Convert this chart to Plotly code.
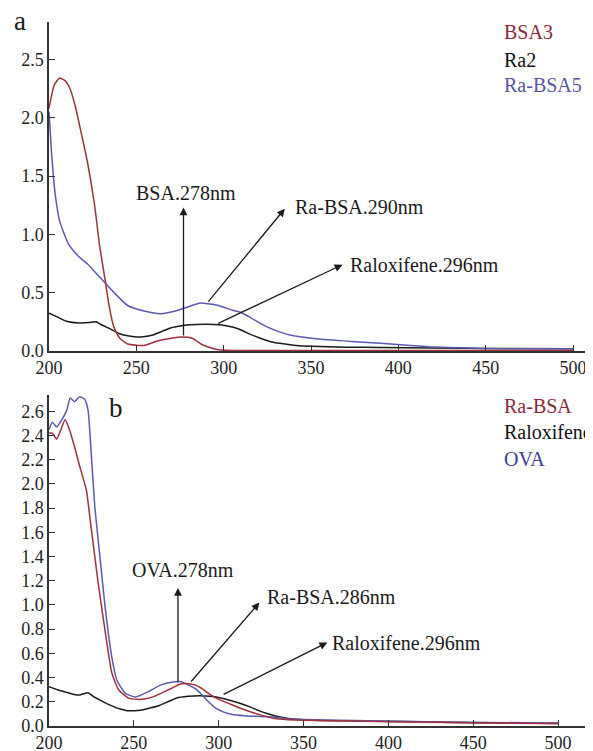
import plotly.graph_objects as go

# ---------------- data (panel a) ----------------
a_bsa_nm = [200, 203, 206, 209, 212, 215, 218, 222, 226, 229, 232, 234.5, 237, 240.5, 245, 250, 255, 262, 270, 276, 282, 287, 292, 297, 305, 350, 400, 450, 500]
a_bsa_val = [2.08, 2.28, 2.34, 2.32, 2.25, 2.10, 1.90, 1.62, 1.26, 0.90, 0.62, 0.38, 0.21, 0.11, 0.06, 0.05, 0.05, 0.085, 0.11, 0.12, 0.11, 0.06, 0.03, 0.01, 0.005, 0.005, 0.005, 0.005, 0.005]

a_ra_nm = [200, 205, 210, 217, 223, 227, 230, 235, 240, 245, 250, 255, 260, 265, 270, 275, 280, 290, 298, 305, 310, 315, 321, 327, 332, 340, 350, 370, 390, 420, 450, 500]
a_ra_val = [0.325, 0.29, 0.255, 0.24, 0.245, 0.25, 0.225, 0.19, 0.15, 0.13, 0.12, 0.125, 0.14, 0.17, 0.20, 0.215, 0.225, 0.23, 0.225, 0.205, 0.18, 0.145, 0.11, 0.08, 0.066, 0.05, 0.04, 0.033, 0.03, 0.025, 0.022, 0.02]

a_rabsa_nm = [200, 201.5, 203.5, 206, 211, 217, 222.5, 228, 236, 245, 255, 264, 274, 280, 286, 291, 297, 305, 310, 316, 323, 330, 338, 350, 362, 375, 390, 405, 418, 440, 460, 500]
a_rabsa_val = [2.05, 1.69, 1.35, 1.12, 0.92, 0.81, 0.74, 0.65, 0.52, 0.39, 0.34, 0.32, 0.35, 0.38, 0.41, 0.405, 0.39, 0.35, 0.33, 0.28, 0.22, 0.175, 0.137, 0.11, 0.094, 0.08, 0.066, 0.05, 0.037, 0.025, 0.02, 0.02]

# ---------------- data (panel b) ----------------
b_rabsa_nm = [200, 202, 204.5, 206.5, 209.5, 211.5, 215, 218, 222, 225, 229, 233, 237, 241, 247, 252, 257, 262, 266, 272, 277, 282, 286, 290, 295, 300, 307, 316, 325, 334, 345, 360, 400, 450, 500]
b_rabsa_val = [2.42, 2.42, 2.37, 2.43, 2.53, 2.47, 2.31, 2.15, 1.95, 1.62, 1.18, 0.79, 0.44, 0.30, 0.23, 0.22, 0.225, 0.245, 0.27, 0.31, 0.345, 0.35, 0.34, 0.31, 0.26, 0.22, 0.18, 0.13, 0.09, 0.06, 0.05, 0.045, 0.036, 0.026, 0.02]

b_ralox_nm = [200, 205, 210, 215, 218, 223, 226, 230, 234, 238, 242, 246, 250, 254, 260, 265, 270, 275, 282, 289, 295, 300, 306, 312, 318, 324, 328, 334, 340, 352, 375, 395, 425, 450, 500]
b_ralox_val = [0.325, 0.30, 0.28, 0.26, 0.256, 0.275, 0.245, 0.215, 0.185, 0.16, 0.14, 0.127, 0.127, 0.13, 0.15, 0.17, 0.20, 0.23, 0.245, 0.25, 0.245, 0.235, 0.215, 0.19, 0.16, 0.125, 0.105, 0.08, 0.064, 0.05, 0.043, 0.04, 0.033, 0.027, 0.02]

b_ova_nm = [200, 202, 204.5, 207.5, 210.5, 212.5, 215, 218, 221, 223, 225, 227, 230, 233, 237, 240, 245, 251, 258, 266, 274, 278, 282, 286, 290, 294, 298, 303, 308, 315, 322, 332, 340, 360, 400, 450, 500]
b_ova_val = [2.45, 2.51, 2.47, 2.53, 2.61, 2.71, 2.68, 2.72, 2.70, 2.61, 2.23, 1.81, 1.40, 0.99, 0.57, 0.38, 0.27, 0.24, 0.28, 0.34, 0.365, 0.365, 0.34, 0.31, 0.26, 0.20, 0.15, 0.115, 0.095, 0.085, 0.08, 0.075, 0.06, 0.05, 0.04, 0.03, 0.025]

x_ticks = [200, 250, 300, 350, 400, 450, 500]

RED = "#a3303c"
BLUE = "#5a5ab2"
BLACK = "#1a1a1a"
FONT = "Liberation Serif, Times New Roman, serif"

# page body has an 8px margin, so the figure is 8px smaller and all pixel
# positions below are shifted by 8px
OFF = 8
W, H = 593 - OFF, 751 - OFF

def px(x):
    return (x - OFF) / W

def py(y):
    return 1 - (y - OFF) / H

fig = go.Figure()

def line(x, y, color, xa, ya, name):
    fig.add_trace(go.Scatter(x=x, y=y, mode="lines", name=name,
                             line=dict(color=color, width=1.5, shape="spline", smoothing=0.5),
                             xaxis=xa, yaxis=ya, showlegend=False, hoverinfo="skip"))

line(a_ra_nm, a_ra_val, BLACK, "x", "y", "Ra2")
line(a_rabsa_nm, a_rabsa_val, BLUE, "x", "y", "Ra-BSA5")
line(a_bsa_nm, a_bsa_val, RED, "x", "y", "BSA3")

line(b_ralox_nm, b_ralox_val, BLACK, "x2", "y2", "Raloxifene")
line(b_ova_nm, b_ova_val, BLUE, "x2", "y2", "OVA")
line(b_rabsa_nm, b_rabsa_val, RED, "x2", "y2", "Ra-BSA")

axis_common = dict(showline=True, linecolor="#333", linewidth=1.5, ticks="inside",
                   ticklen=6, tickwidth=1.2, tickcolor="#333", showgrid=False,
                   zeroline=False, automargin=False, ticklabeloverflow="allow",
                   tickfont=dict(family=FONT, size=18, color="#222"))

xd = [px(49), px(590)]
fig.update_layout(
    template="none",
    width=W, height=H, margin=dict(l=0, r=0, t=0, b=0, pad=0),
    paper_bgcolor="white", plot_bgcolor="white",
    xaxis=dict(domain=xd, range=[200, 509.7], tickvals=x_ticks, anchor="y", **axis_common),
    yaxis=dict(domain=[py(351), py(22)], range=[0, 2.82], dtick=0.5,
               tickformat=".1f", anchor="x", **axis_common),
    xaxis2=dict(domain=xd, range=[200, 518.8], tickvals=x_ticks, anchor="y2", **axis_common),
    yaxis2=dict(domain=[py(726), py(395)], range=[0, 2.735], dtick=0.2,
                tickformat=".1f", anchor="x2", **axis_common),
)

ann = []

def arrow(xr, yr, tail, head):
    ann.append(dict(xref=xr, yref=yr, axref=xr, ayref=yr, x=head[0], y=head[1],
                    ax=tail[0], ay=tail[1], text="", showarrow=True, arrowhead=2,
                    arrowsize=1.2, arrowwidth=1.3, arrowcolor="#1a1a1a"))

def label(xr, yr, x, y, text, xanchor="left", color="#1a1a1a", size=20):
    ann.append(dict(xref=xr, yref=yr, x=x, y=y, text=text, showarrow=False,
                    xanchor=xanchor, yanchor="middle",
                    font=dict(family=FONT, size=size, color=color)))

# panel a annotations
arrow("x", "y", (277, 0.12), (277, 1.23))
label("x", "y", 278.7, 1.353, "BSA.278nm", xanchor="center")
arrow("x", "y", (290.5, 0.41), (335, 1.22))
label("x", "y", 339.7, 1.233, "Ra-BSA.290nm")
arrow("x", "y", (296, 0.23), (368, 0.74))
label("x", "y", 371.2, 0.736, "Raloxifene.296nm")
label("x", "y", 459.3, 2.73, "BSA3", color="#8e2a36")
label("x", "y", 459.3, 2.49, "Ra2", color="#111")
label("x", "y", 459.3, 2.28, "Ra-BSA5", color="#5656a8")
label("paper", "paper", px(20), py(21), "a", xanchor="center", size=27)

# panel b annotations
arrow("x2", "y2", (276, 0.35), (276, 1.14))
label("x2", "y2", 278.7, 1.29, "OVA.278nm", xanchor="center")
arrow("x2", "y2", (283, 0.355), (324, 1.02))
label("x2", "y2", 327.3, 1.066, "Ra-BSA.286nm")
arrow("x2", "y2", (302, 0.255), (364, 0.69))
label("x2", "y2", 365.6, 0.686, "Raloxifene.296nm")
label("x2", "y2", 467, 2.645, "Ra-BSA", color="#8e2a36")
label("x2", "y2", 467, 2.43, "Raloxifene", color="#111")
label("x2", "y2", 467, 2.207, "OVA", color="#3a3a96")
label("paper", "paper", px(116), py(408), "b", xanchor="center", size=27)

fig.update_layout(annotations=ann)
fig.write_html("out.html")
